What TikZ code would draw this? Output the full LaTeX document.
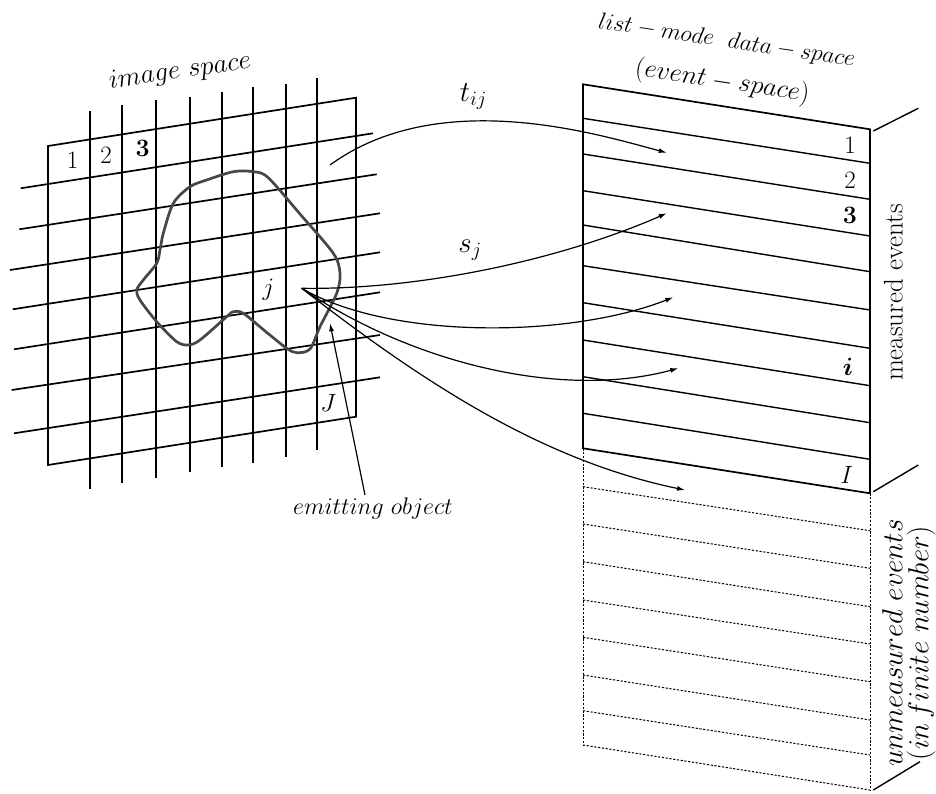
\RequirePackage{fix-cm}
\documentclass[tikz,border=0pt]{standalone}
\usepackage{amsmath}
\usetikzlibrary{arrows.meta}
\begin{document}
\begin{tikzpicture}[x=1pt,y=-1pt,
  gridline/.style={line width=1.7pt},
  panelline/.style={line width=1.4pt},
  frameline/.style={line width=1.7pt},
  blobline/.style={line width=2.7pt, draw=black!72},
  conn/.style={line width=1.2pt, -{Latex[length=8pt,width=5pt]}},
  dotline/.style={line width=1pt, dash pattern=on 2.2pt off 1.6pt},
  lab/.style={font=\fontsize{25}{29}\selectfont, inner sep=0pt},
  biglab/.style={font=\fontsize{29}{33}\selectfont, inner sep=0pt}]
\useasboundingbox (0,0) rectangle (936,794);

% ---------- image space grid ----------
\foreach \x/\a/\b in {90/110.7/489, 122/105/483, 156/100/478, 190/97/472,
                      222/92/467, 253/87/463, 286/84/457, 317/78/450}
  \draw[gridline] (\x,\a) -- (\x,\b);
\foreach \xa/\ya/\xb/\yb in {20.7/188.3/373/133.3, 19.3/229.3/376.7/174.3,
                             10/270/380/213.3, 12.7/309.3/380/252.3,
                             14/349.3/380/292.3, 11.7/390/380/335,
                             14/433.3/380/377.3}
  \draw[gridline] (\xa,\ya) -- (\xb,\yb);
\draw[frameline] (48,146) -- (356,97.7) -- (356,416.7) -- (48,465) -- cycle;

% emitting object
\draw[blobline] plot[smooth cycle, tension=0.5] coordinates {
 (253.3,171.7) (268,177.5) (300,214) (333.3,253.3) (340,273.3) (336.7,293.3)
 (320,326.7) (310,349) (297,352.7) (286.7,348.3) (265,331) (243.3,313.3)
 (233.3,311.7) (226.7,316.7) (200,340) (188.3,345) (176.7,341.7) (156.7,321.7)
 (140,300) (136.7,290) (143.3,280) (156.7,263.3) (160,250) (163.3,233.3)
 (173.3,203.3) (190,186.7) (206.7,180) (233.3,171.7)};

\node[font=\fontsize{27}{31}\selectfont, inner sep=0pt, rotate=8.5] (imgspace) at (180,72) {$image\ space$};
\node[lab] (c1) at (72.7,160) {$1$};
\node[lab] (c2) at (106,155) {$2$};
\node[lab] (c3) at (142.7,148.3) {$\mathbf{3}$};
\node[lab] (jlab) at (268.3,290) {$j$};
\node[lab] (Jlab) at (328.3,403.3) {$J$};
\node[font=\fontsize{24}{27}\selectfont, inner sep=0pt] (emit) at (373,508) {$emitting\ object$};

% ---------- list-mode data space ----------
\draw[frameline] (583,84.3) -- (870,129.3) -- (870,493.3) -- (583,448.3) -- cycle;
\foreach \ya/\yb in {118.3/163.3, 154/199.3, 190.7/236, 225/271.7, 265.7/310,
                     302.7/348.3, 340/385.7, 376.7/422.7, 413.3/459.3}
  \draw[panelline] (583,\ya) -- (870,\yb);
\draw[dotline] (583,448.3) -- (583,745);
\draw[dotline] (870,493.3) -- (870,790);
\foreach \ya/\yb in {486.7/530.7, 524/568.3, 561.7/606.7, 600/644, 637.3/681.7,
                     675/720, 710.7/755, 745/790}
  \draw[dotline] (583,\ya) -- (870,\yb);

\node[lab] (r1) at (850,145) {$1$};
\node[lab] (r2) at (850,180) {$2$};
\node[lab] (r3) at (850,215) {$\mathbf{3}$};
\node[lab] (ri) at (848,366.7) {$\boldsymbol{i}$};
\node[lab] (rI) at (846.7,475) {$I$};

\node[font=\fontsize{23.5}{27}\selectfont, inner sep=0pt, rotate=-8.5] (title1) at (726.7,41.5) {$list-mode\ \ data-space$};
\node[font=\fontsize{26.5}{30}\selectfont, inner sep=0pt, rotate=-8.5] (title2) at (722.3,82) {$(event-space)$};

% brackets
\coordinate (bt0) at (873.3,131);   \coordinate (bt1) at (918.3,108.3);
\coordinate (bm0) at (873.3,491.7); \coordinate (bm1) at (918.3,465);
\coordinate (bb0) at (873.3,790);   \coordinate (bb1) at (920,761.7);
\draw[panelline] (bt0) -- (bt1);
\draw[panelline] (bm0) -- (bm1);
\draw[panelline] (bb0) -- (bb1);

\node[font=\fontsize{27}{30}\selectfont, inner sep=0pt, rotate=90] (meas) at (893.3,292.5) {measured events};
\node[font=\fontsize{29}{26}\selectfont, inner sep=0pt, rotate=90, align=center] (unmeas) at (909,643)
  {$unmeasured\ events$\\ $(in\,finite\ number)$};

% ---------- connectors ----------
\coordinate (tstart) at (330,165);
\coordinate (jpt) at (301.7,288.3);
\coordinate (e1) at (666.7,152.7);
\coordinate (e2) at (666.7,213.3);
\coordinate (e3) at (673.3,297.3);
\coordinate (e4) at (678.3,368.3);
\coordinate (e5) at (685,490);
\coordinate (emittip) at (330,323.3);
\coordinate (emitstart) at (365,495);

\draw[conn] (tstart) .. controls (440,85) and (600,135) .. (e1);
\draw[conn] (jpt) .. controls (420,290) and (560,260) .. (e2);
\draw[conn] (jpt) .. controls (390,340) and (570,338) .. (e3);
\draw[conn] (jpt) .. controls (410,362) and (560,400) .. (e4);
\draw[conn] (jpt) .. controls (420,380) and (540,460) .. (e5);
\draw[conn] (emitstart) -- (emittip);

\node[biglab] (tij) at (473.3,96.7) {$t_{ij}$};
\node[biglab] (sj) at (470,250) {$s_j$};
\end{tikzpicture}
\end{document}
